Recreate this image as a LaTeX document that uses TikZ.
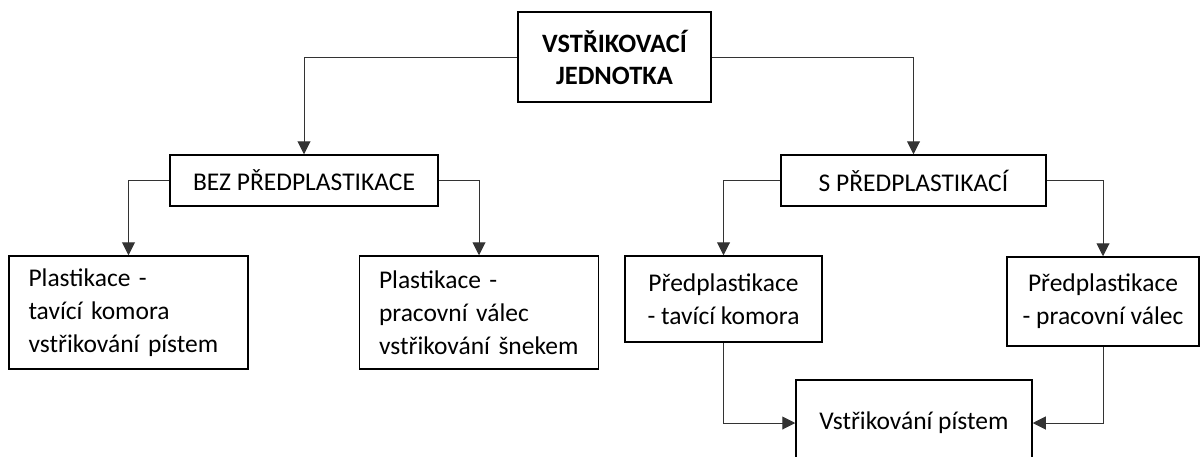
\documentclass[tikz,border=0pt]{standalone}
\usepackage{fontspec}
\setmainfont{Carlito}
\usepackage{tikz}
\usetikzlibrary{arrows.meta}

\begin{document}
\begin{tikzpicture}[x=1pt,y=-1pt,
        box/.style={draw=black,line width=1.5pt,inner sep=0pt,font=\fontsize{25.5}{33}\selectfont},
        leftbox/.style={box,minimum width=239pt,minimum height=113pt,text width=200pt,align=left},
        midbox/.style={box,align=center},
        conn/.style={draw=black!80,line width=1pt,-{Triangle[width=13pt,length=13pt]}}]
            \useasboundingbox (0,0) rectangle (1203,456);
            \clip (0,0) rectangle (1203,456);

            \node[midbox,minimum width=193pt,minimum height=90pt,font=\fontsize{26.5}{32}\selectfont\bfseries]
               (unit) at (614.5,57) {VSTŘIKOVACÍ\\JEDNOTKA};
            \node[midbox,minimum width=268pt,minimum height=51pt] (bez) at (304,180.5) {BEZ PŘEDPLASTIKACE};
            \node[midbox,minimum width=265pt,minimum height=51pt] (spre) at (913.5,180.5) {S PŘEDPLASTIKACÍ};

            \node[leftbox] (kom) at (128.5,312.5) {Plastikace -\\tavící komora\\vstřikování pístem};
            \node[leftbox] (val) at (479,312.5) {Plastikace -\\pracovní válec\\vstřikování šnekem};
            \node[midbox,minimum width=197pt,minimum height=86pt] (pkom) at (723.5,299) {Předplastikace\\- tavící komora};
            \node[midbox,minimum width=192pt,minimum height=89pt] (pval) at (1103,301.5) {Předplastikace\\- pracovní válec};
            \node[midbox,minimum width=236pt,minimum height=86pt] (pist) at (914,423) {Vstřikování pístem};

            \draw[conn] (unit.west) -| (bez.north);
            \draw[conn] (unit.east) -| (spre.north);
            \draw[conn] (bez.west) -| (kom.north);
            \draw[conn] (bez.east) -| (val.north);
            \draw[conn] (spre.west) -| (pkom.north);
            \draw[conn] (spre.east) -| (pval.north);
            \draw[conn] (pkom.south) |- (pist.west);
            \draw[conn] (pval.south) |- (pist.east);
        \end{tikzpicture}
\end{document}
